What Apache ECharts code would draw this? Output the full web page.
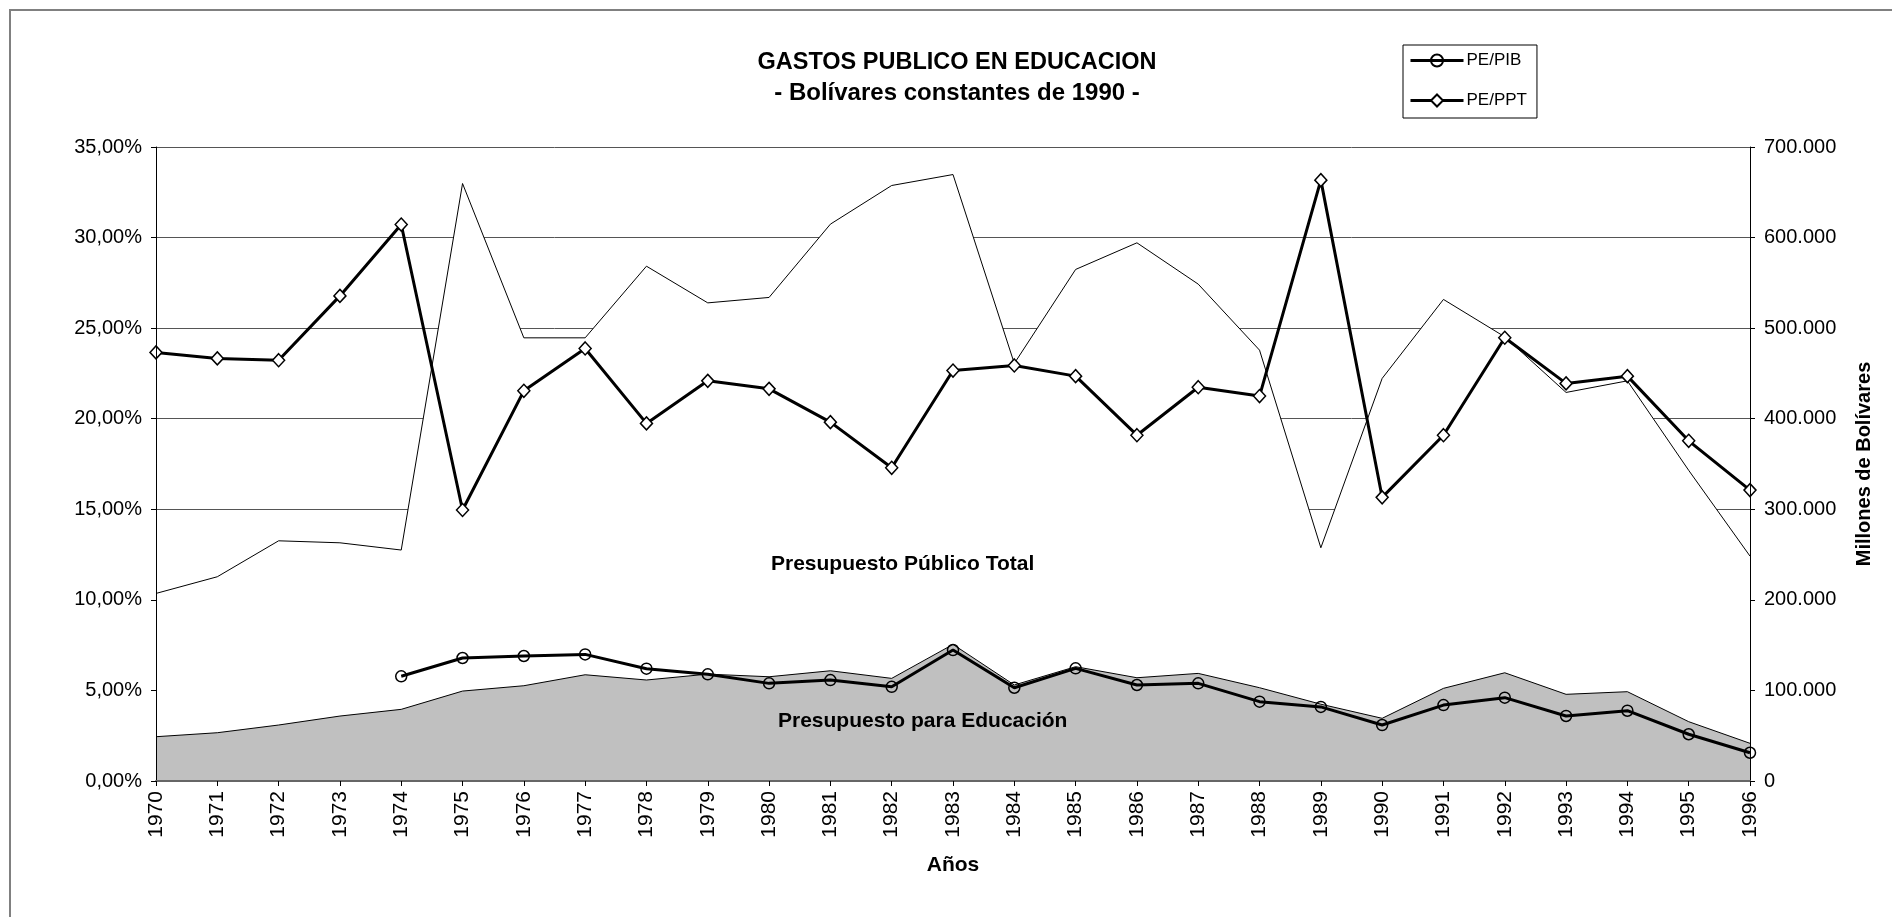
<!DOCTYPE html>
<html>
<head>
<meta charset="utf-8">
<title>Gastos Publico en Educacion</title>
<script src="https://cdn.jsdelivr.net/npm/echarts@6/dist/echarts.min.js"></script>
<style>
  body { margin: 0; background: #fff; }
  #chart { width: 1892px; height: 917px; }
</style>
</head>
<body>
<div id="chart"></div>
<script>
// años
const years = ['1970', '1971', '1972', '1973', '1974', '1975', '1976', '1977', '1978', '1979',
  '1980', '1981', '1982', '1983', '1984', '1985', '1986', '1987', '1988', '1989',
  '1990', '1991', '1992', '1993', '1994', '1995', '1996'];

// porcentajes (eje izquierdo)
const pePib = [null, null, null, null, 5.78, 6.79, 6.90, 6.99, 6.20, 5.89,
  5.39, 5.57, 5.20, 7.23, 5.15, 6.22, 5.30, 5.39, 4.38, 4.09,
  3.09, 4.19, 4.60, 3.59, 3.88, 2.58, 1.56];
const pePpt = [23.66, 23.33, 23.23, 26.78, 30.72, 14.96, 21.54, 23.88, 19.74, 22.09,
  21.65, 19.81, 17.29, 22.66, 22.94, 22.35, 19.09, 21.74, 21.25, 33.17,
  15.66, 19.09, 24.47, 21.95, 22.35, 18.78, 16.06];

// millones de bolivares (eje derecho)
const presupuestoTotal = [207100, 225500, 265200, 263000, 255000, 659700, 489300, 489300, 568400, 527900,
  533900, 614800, 657500, 669600, 461000, 564800, 594200, 548600, 475700, 257500,
  444500, 531700, 490400, 429000, 441800, 343000, 248300];
const presupuestoEducacion = [48900, 53300, 61800, 71700, 79100, 99300, 105200, 117300, 111500, 118000,
  115100, 121700, 113300, 150800, 106000, 126200, 114000, 118800, 103000, 84800,
  69200, 102300, 119500, 95700, 98600, 65500, 41600];

const FONT = '"Liberation Sans", Arial, sans-serif';

const chart = echarts.init(document.getElementById('chart'));

const option = {
  animation: false,
  backgroundColor: '#fff',
  textStyle: { fontFamily: FONT, color: '#000' },
  title: [{
    text: 'GASTOS PUBLICO EN EDUCACION',
    left: 957, top: 51, textAlign: 'center', padding: 0,
    textStyle: { fontFamily: FONT, fontSize: 23.5, fontWeight: 'bold', color: '#000' }
  }, {
    text: '- Bolívares constantes de 1990 -',
    left: 957, top: 81, textAlign: 'center', padding: 0,
    textStyle: { fontFamily: FONT, fontSize: 24, fontWeight: 'bold', color: '#000' }
  }],
  legend: {
    data: ['PE/PIB', 'PE/PPT'],
    orient: 'vertical',
    left: 1403, top: 45,
    padding: [7, 10, 9, 6],
    itemWidth: 53, itemHeight: 15, itemGap: 23,
    borderColor: '#000', borderWidth: 1,
    lineStyle: { width: 3, color: '#000' },
    textStyle: { fontFamily: FONT, fontSize: 17, color: '#000', padding: [0, 0, 0, -2] }
  },
  graphic: [
    { type: 'rect', silent: true, z: -10,
      shape: { x: 10, y: 10, width: 2000, height: 1000 },
      style: { fill: null, stroke: '#808080', lineWidth: 2 } },
    { type: 'text', left: 771, top: 554, z: 100,
      style: { text: 'Presupuesto Público Total', font: 'bold 21px ' + FONT, fill: '#000' } },
    { type: 'text', left: 778, top: 711, z: 100,
      style: { text: 'Presupuesto para Educación', font: 'bold 21px ' + FONT, fill: '#000' } }
  ],
  grid: { left: 156, right: 142, top: 147, bottom: 136 },
  xAxis: {
    type: 'category',
    data: years,
    boundaryGap: false,
    z: 10,
    axisLine: { lineStyle: { color: '#666', width: 2 } },
    axisTick: { show: true, length: 5, lineStyle: { color: '#000' } },
    axisLabel: { rotate: 90, fontSize: 21, color: '#000', margin: 10, fontFamily: FONT },
    name: 'Años',
    nameLocation: 'middle',
    nameGap: 74,
    nameTextStyle: { fontSize: 21, fontWeight: 'bold', color: '#000', fontFamily: FONT }
  },
  yAxis: [{
    type: 'value', position: 'left', min: 0, max: 35, interval: 5, z: 10,
    axisLine: { show: true, lineStyle: { color: '#000', width: 1 } },
    axisTick: { show: true, length: 5, lineStyle: { color: '#000' } },
    axisLabel: {
      fontSize: 20, color: '#000', margin: 14, fontFamily: FONT,
      formatter: v => v.toFixed(2).replace('.', ',') + '%'
    },
    splitLine: { show: false }
  }, {
    type: 'value', position: 'right', min: 0, max: 700000, interval: 100000, z: 10,
    axisLine: { show: true, lineStyle: { color: '#000', width: 1 } },
    axisTick: { show: true, length: 5, lineStyle: { color: '#000' } },
    axisLabel: {
      fontSize: 20, color: '#000', margin: 14, fontFamily: FONT,
      formatter: v => v === 0 ? '0' : String(v).replace(/\B(?=(\d{3})+(?!\d))/g, '.')
    },
    splitLine: { show: false },
    name: 'Millones de Bolívares',
    nameLocation: 'middle',
    nameRotate: 90,
    nameGap: 104,
    nameTextStyle: { fontSize: 20, fontWeight: 'bold', color: '#000', fontFamily: FONT }
  }, {
    // solo lineas de division, debajo de las areas
    type: 'value', position: 'left', min: 0, max: 35, interval: 5,
    axisLine: { show: false }, axisTick: { show: false }, axisLabel: { show: false },
    splitLine: { show: true, lineStyle: { color: '#555', width: 1 } }
  }],
  series: [{
    name: 'Presupuesto Público Total',
    type: 'line',
    yAxisIndex: 1,
    data: presupuestoTotal,
    showSymbol: false,
    lineStyle: { color: '#000', width: 1 },
    areaStyle: { color: '#fff', opacity: 1 },
    z: 1
  }, {
    name: 'Presupuesto para Educación',
    type: 'line',
    yAxisIndex: 1,
    data: presupuestoEducacion,
    showSymbol: false,
    lineStyle: { color: '#000', width: 1 },
    areaStyle: { color: '#c0c0c0', opacity: 1 },
    z: 2
  }, {
    name: 'PE/PPT',
    type: 'line',
    yAxisIndex: 0,
    data: pePpt,
    symbol: 'diamond',
    symbolSize: [12, 13],
    lineStyle: { color: '#000', width: 3 },
    itemStyle: { color: '#fff', borderColor: '#000', borderWidth: 1.5 },
    z: 4
  }, {
    name: 'PE/PIB',
    type: 'line',
    yAxisIndex: 0,
    data: pePib,
    symbol: 'circle',
    symbolSize: 11,
    lineStyle: { color: '#000', width: 3 },
    itemStyle: { color: 'rgba(255,255,255,0)', borderColor: '#000', borderWidth: 1.5 },
    z: 4
  }]
};

chart.setOption(option);
</script>
</body>
</html>
